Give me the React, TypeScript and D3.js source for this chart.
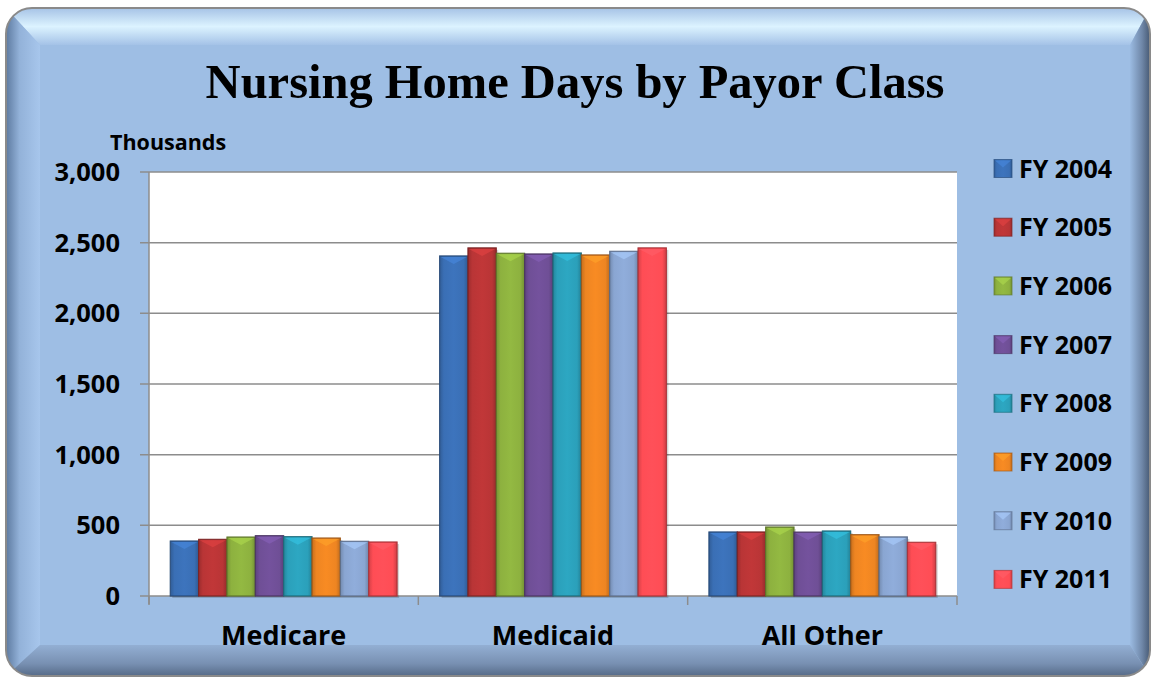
import React from "react";
import * as d3 from "d3";

const categories = ["Medicare", "Medicaid", "All Other"];
const seriesNames = ["FY 2004", "FY 2005", "FY 2006", "FY 2007", "FY 2008", "FY 2009", "FY 2010", "FY 2011"];
const fy2004 = [389, 2406, 453];
const fy2005 = [401, 2463, 453];
const fy2006 = [417, 2425, 488];
const fy2007 = [427, 2420, 452];
const fy2008 = [420, 2427, 460];
const fy2009 = [410, 2413, 434];
const fy2010 = [387, 2439, 418];
const fy2011 = [382, 2463, 380];
const seriesValues = [fy2004, fy2005, fy2006, fy2007, fy2008, fy2009, fy2010, fy2011];
const yTicks = [0, 500, 1000, 1500, 2000, 2500, 3000];
const colors = ["#3a6fb5", "#b93536", "#8db13f", "#6f4f96", "#2ba0ba", "#ee8522", "#8aa6d2", "#ff4d55"];

const W = 1154;
const H = 679;
const plot = { left: 149, right: 957, top: 172, bottom: 596 };
const sans = "'Open Sans', 'DejaVu Sans', sans-serif";

export default function App() {
  const x0 = d3.scaleBand<string>().domain(categories).range([plot.left, plot.right]).paddingInner(0).paddingOuter(0);
  const x1 = d3.scaleBand<string>().domain(seriesNames).range([0, x0.bandwidth()]).paddingInner(0).paddingOuter(0.75);
  const y = d3.scaleLinear().domain([0, 3000]).range([plot.bottom, plot.top]);
  const fmt = d3.format(",");

  const darker = (c: string, k: number) => d3.color(c)!.darker(k).formatHex();
  const brighter = (c: string, k: number) => d3.color(c)!.brighter(k).formatHex();

  const frame = { x: 6, y: 8, w: 1144, h: 668, r: 26 };
  const inner = { l: 40, t: 45, r: 1130, b: 645 };

  return (
    <svg width={W} height={H} style={{ position: "absolute", left: 0, top: 0, background: "#fff" }}>
      <defs>
        <clipPath id="frameClip">
          <rect x={frame.x} y={frame.y} width={frame.w} height={frame.h} rx={frame.r} />
        </clipPath>
        <linearGradient id="bevTop" x1="0" y1="0" x2="0" y2="1">
          <stop offset="0" stopColor="#a6c3e6" />
          <stop offset="0.5" stopColor="#dcf3ff" />
          <stop offset="1" stopColor="#a4c2e7" />
        </linearGradient>
        <linearGradient id="bevLeft" x1="0" y1="0" x2="1" y2="0">
          <stop offset="0" stopColor="#5d7aa0" />
          <stop offset="0.4" stopColor="#93b2d9" />
          <stop offset="1" stopColor="#a7c6ec" />
        </linearGradient>
        <linearGradient id="bevRight" x1="0" y1="0" x2="1" y2="0">
          <stop offset="0" stopColor="#9bbbe2" />
          <stop offset="0.6" stopColor="#6f87a8" />
          <stop offset="1" stopColor="#475a74" />
        </linearGradient>
        <linearGradient id="bevBottom" x1="0" y1="0" x2="0" y2="1">
          <stop offset="0" stopColor="#93afd3" />
          <stop offset="0.6" stopColor="#7890b2" />
          <stop offset="1" stopColor="#566b88" />
        </linearGradient>
        {colors.map((c, i) => (
          <linearGradient key={i} id={`barGrad${i}`} x1="0" y1="0" x2="1" y2="0">
            <stop offset="0" stopColor={darker(c, 0.5)} />
            <stop offset="0.15" stopColor={c} />
            <stop offset="0.5" stopColor={brighter(c, 0.12)} />
            <stop offset="0.85" stopColor={c} />
            <stop offset="1" stopColor={darker(c, 0.6)} />
          </linearGradient>
        ))}
      </defs>

      {/* frame */}
      <g clipPath="url(#frameClip)">
        <rect x={frame.x} y={frame.y} width={frame.w} height={frame.h} fill="#9ebee4" />
        <polygon
          points={`${frame.x},${frame.y} ${frame.x + frame.w},${frame.y} ${inner.r},${inner.t} ${inner.l},${inner.t}`}
          fill="url(#bevTop)"
        />
        <polygon
          points={`${frame.x},${frame.y} ${inner.l},${inner.t} ${inner.l},${inner.b} ${frame.x},${frame.y + frame.h}`}
          fill="url(#bevLeft)"
        />
        <polygon
          points={`${frame.x + frame.w},${frame.y} ${frame.x + frame.w},${frame.y + frame.h} ${inner.r},${inner.b} ${inner.r},${inner.t}`}
          fill="url(#bevRight)"
        />
        <polygon
          points={`${frame.x},${frame.y + frame.h} ${inner.l},${inner.b} ${inner.r},${inner.b} ${frame.x + frame.w},${frame.y + frame.h}`}
          fill="url(#bevBottom)"
        />
        <rect x={inner.l} y={inner.t} width={inner.r - inner.l} height={inner.b - inner.t} fill="#9ebee4" />
      </g>
      <rect x={frame.x} y={frame.y} width={frame.w} height={frame.h} rx={frame.r} fill="none" stroke="#8a8a8a" strokeWidth={2} />

      {/* title */}
      <text x={575} y={98} textAnchor="middle" fontFamily="'Liberation Serif', serif" fontWeight="bold" fontSize={48.5} fill="#000">
        Nursing Home Days by Payor Class
      </text>
      <text x={110} y={150} fontFamily={sans} fontWeight="bold" fontSize={21.5} fill="#000">
        Thousands
      </text>

      {/* plot area */}
      <rect x={plot.left} y={plot.top} width={plot.right - plot.left} height={plot.bottom - plot.top} fill="#fff" />
      {yTicks.map((t) => (
        <g key={t}>
          <line x1={plot.left - 9} x2={plot.right} y1={y(t)} y2={y(t)} stroke="#8c8c8c" strokeWidth={1.5} />
          <text x={120} y={y(t)} dy="0.35em" textAnchor="end" fontFamily={sans} fontWeight="bold" fontSize={25.5} fill="#000">
            {fmt(t)}
          </text>
        </g>
      ))}
      <line x1={plot.left} x2={plot.left} y1={plot.top} y2={plot.bottom + 8} stroke="#8c8c8c" strokeWidth={1.5} />
      {[...categories.map((c) => x0(c)!), plot.right].map((xv, i) => (
        <line key={i} x1={xv} x2={xv} y1={plot.bottom} y2={plot.bottom + 9} stroke="#8c8c8c" strokeWidth={1.5} />
      ))}

      {/* bars */}
      {categories.map((cat, ci) => (
        <g key={cat} transform={`translate(${x0(cat)},0)`}>
          {seriesNames.map((s, si) => {
            const v = seriesValues[si][ci];
            const bx = x1(s)!;
            const bw = x1.bandwidth();
            const by = y(v);
            const bh = plot.bottom - by;
            const c = colors[si];
            const b = Math.min(8, bh / 2);
            return (
              <g key={s}>
                <rect x={bx + 2} y={by + 2} width={bw} height={bh} fill="#000" opacity={0.16} />
                <rect x={bx} y={by} width={bw} height={bh} fill={`url(#barGrad${si})`} stroke={darker(c, 1)} strokeWidth={1} strokeOpacity={0.8} />
                <polygon
                  points={`${bx + 1},${by + 1} ${bx + bw - 1},${by + 1} ${bx + bw / 2},${by + b}`}
                  fill={brighter(c, 0.6)}
                  opacity={0.6}
                />
                <rect x={bx} y={by} width={bw} height={bh} fill="none" stroke={darker(c, 1.3)} strokeWidth={1} strokeOpacity={0.6} />
              </g>
            );
          })}
        </g>
      ))}

      {/* category labels */}
      {categories.map((cat) => (
        <text key={cat} x={x0(cat)! + x0.bandwidth() / 2} y={645} textAnchor="middle" fontFamily={sans} fontWeight="bold" fontSize={27} fill="#000">
          {cat}
        </text>
      ))}

      {/* legend */}
      {seriesNames.map((s, i) => {
        const cy = 168.5 + i * 58.7;
        const c = colors[i];
        return (
          <g key={s}>
            <rect x={994} y={cy - 9} width={18} height={18} fill={`url(#barGrad${i})`} stroke={darker(c, 1)} strokeWidth={1} strokeOpacity={0.7} />
            <polygon points={`${995},${cy - 8} ${1011},${cy - 8} ${1003},${cy - 1}`} fill={brighter(c, 0.6)} opacity={0.6} />
            <text x={1019} y={cy} dy="0.36em" fontFamily={sans} fontWeight="bold" fontSize={25} fill="#000">
              {s}
            </text>
          </g>
        );
      })}
    </svg>
  );
}
